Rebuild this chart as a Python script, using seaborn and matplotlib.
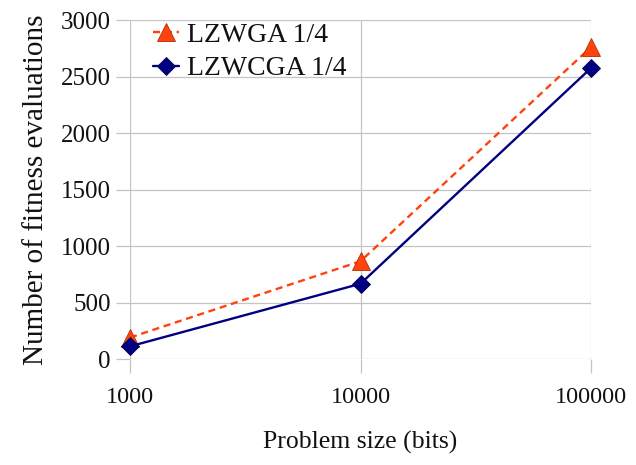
import matplotlib
matplotlib.use("Agg")
import matplotlib.pyplot as plt
import seaborn as sns
import pandas as pd
from matplotlib.ticker import FixedLocator, NullLocator, FixedFormatter

problem_sizes = [1000, 10000, 100000]
lzwga = [190, 865, 2760]
lzwcga = [112, 666, 2575]
series_names = ["LZWGA 1/4", "LZWCGA 1/4"]
x_tick_labels = ["1000", "10000", "100000"]
y_ticks = [0, 500, 1000, 1500, 2000, 2500, 3000]

sns.set_theme(style="white")
plt.rcParams['font.family'] = ['Liberation Serif', 'DejaVu Serif']

fig = plt.figure(figsize=(6.36, 4.65), dpi=100)
ax = fig.add_axes([130/636, 1-359/465, (591-130)/636, (359-20)/465])

df1 = pd.DataFrame({"size": problem_sizes, "evals": lzwga})
df2 = pd.DataFrame({"size": problem_sizes, "evals": lzwcga})

grid_c = "#c4c4c4"
ax.set_xscale("log")
ax.set_xlim(1000, 100000)
ax.set_ylim(0, 3000)
ax.xaxis.set_major_locator(FixedLocator(problem_sizes))
ax.xaxis.set_major_formatter(FixedFormatter(x_tick_labels))
ax.xaxis.set_minor_locator(NullLocator())
ax.set_yticks(y_ticks)
ax.set_yticklabels([str(v) for v in y_ticks])
ax.grid(True, color=grid_c, linewidth=0.9)
ax.set_axisbelow(True)
for s in ax.spines.values():
    s.set_visible(False)

sns.lineplot(data=df1, x="size", y="evals", ax=ax, color="#ff420e",
             linestyle=(0, (3, 2)), linewidth=1.7, marker="^", markersize=13,
             markerfacecolor="#ff420e", markeredgecolor="#b03000", markeredgewidth=0.6,
             label=series_names[0], clip_on=False, zorder=3)
sns.lineplot(data=df2, x="size", y="evals", ax=ax, color="#000080",
             linewidth=1.7, marker="D", markersize=9,
             markerfacecolor="#000080", markeredgecolor="#000050", markeredgewidth=0.6,
             label=series_names[1], clip_on=False, zorder=4)

ax.tick_params(axis="both", which="major", direction="out", length=10, width=0.9,
               color=grid_c, labelsize=18, labelcolor="#111111",
               bottom=True, left=True, pad=4)
ax.tick_params(axis="x", pad=10, labelsize=17.5)

ax.set_xlabel("Problem size (bits)", fontsize=18.5, color="#111111", labelpad=17)
ax.set_ylabel("Number of fitness evaluations", fontsize=21, color="#111111", labelpad=8)

leg = ax.legend(loc="upper left", bbox_to_anchor=(0.025, 1.025), frameon=False,
                fontsize=20, handlelength=0.95, handletextpad=0.3, labelspacing=0.28,
                borderaxespad=0)
for t in leg.get_texts():
    t.set_color("#111111")

fig.savefig("out.png", dpi=100)
